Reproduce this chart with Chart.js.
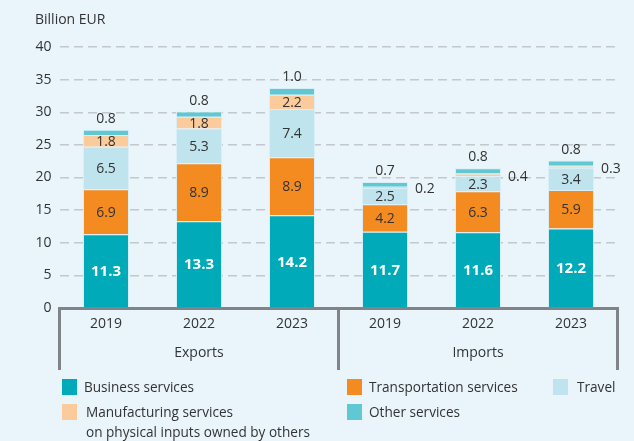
<!DOCTYPE html>
<html>
<head>
  <title>Services exports and imports</title>
  <script src="https://cdn.jsdelivr.net/npm/chart.js"></script>
  <style>
    body { margin: 0; background: #e9f5fb; font-family: "Open Sans", sans-serif; }
    #wrap { position: relative; width: 634px; height: 441px; }
    .legend-item {
      position: absolute;
      font-size: 13.6px;
      color: #333;
      line-height: 20px;
      white-space: pre-line;
    }
    .legend-item span.box {
      position: absolute;
      left: -22px;
      top: 2px;
      width: 15px;
      height: 16px;
    }
  </style>
</head>
<body>
<div id="wrap">
  <canvas id="chart" width="634" height="441"></canvas>
  <div id="legend"></div>
</div>

<script>
  const categories = ["2019", "2022", "2023", "2019", "2022", "2023"];
  const groups = ["Exports", "Imports"];
  const groupSizes = [3, 3];

  const business = [11.3, 13.3, 14.2, 11.7, 11.6, 12.2];
  const transport = [6.9, 8.9, 8.9, 4.2, 6.3, 5.9];
  const travel = [6.5, 5.3, 7.4, 2.5, 2.3, 3.4];
  const manufacturing = [1.8, 1.8, 2.2, 0.2, 0.4, 0.3];
  const other = [0.8, 0.8, 1.0, 0.7, 0.8, 0.8];

  const seriesNames = [
    "Business services",
    "Transportation services",
    "Travel",
    "Manufacturing services\non physical inputs owned by others",
    "Other services"
  ];
  const colors = ["#00aab8", "#f38b21", "#bfe4ed", "#fccb9b", "#5fc8d2"];

  const textColor = "#333333";
  const axisGray = "#808488";

  // value labels drawn from the bar elements
  const valueLabels = {
    id: "valueLabels",
    afterDatasetsDraw(chart) {
      const ctx = chart.ctx;
      ctx.save();
      chart.data.datasets.forEach((ds, di) => {
        const meta = chart.getDatasetMeta(di);
        meta.data.forEach((bar, i) => {
          const txt = ds.data[i].toFixed(1);
          const h = Math.abs(bar.base - bar.y);
          if (di === 0) {
            ctx.font = "bold 15px 'Open Sans'";
            ctx.fillStyle = "#ffffff";
            ctx.textAlign = "center";
            ctx.textBaseline = "middle";
            ctx.fillText(txt, bar.x, (bar.y + bar.base) / 2 + 1);
          } else if (di === 4) {
            ctx.font = "14px 'Open Sans'";
            ctx.fillStyle = textColor;
            ctx.textAlign = "center";
            ctx.textBaseline = "middle";
            ctx.fillText(txt, bar.x, bar.y - 11);
          } else if (h < 8) {
            ctx.font = "14px 'Open Sans'";
            ctx.fillStyle = textColor;
            ctx.textAlign = "left";
            ctx.textBaseline = "middle";
            ctx.fillText(txt, bar.x + bar.width / 2 + 7, (bar.y + bar.base) / 2 + 2);
          } else {
            ctx.font = "14px 'Open Sans'";
            ctx.fillStyle = textColor;
            ctx.textAlign = "center";
            ctx.textBaseline = "middle";
            ctx.fillText(txt, bar.x, (bar.y + bar.base) / 2 + 1);
          }
        });
      });
      ctx.restore();
    }
  };

  // group brackets under the x axis, plus the unit label
  const groupAxis = {
    id: "groupAxis",
    afterDraw(chart) {
      const ctx = chart.ctx;
      const x = chart.scales.x;
      const area = chart.chartArea;
      ctx.save();
      ctx.strokeStyle = axisGray;
      ctx.lineWidth = 3;
      let start = 0;
      const edges = [area.left];
      groups.forEach((g, gi) => {
        const end = start + groupSizes[gi] - 1;
        const right = end < categories.length - 1
          ? (x.getPixelForValue(end) + x.getPixelForValue(end + 1)) / 2
          : area.right;
        edges.push(right);
        ctx.font = "14px 'Open Sans'";
        ctx.fillStyle = textColor;
        ctx.textAlign = "center";
        ctx.textBaseline = "middle";
        ctx.fillText(g, (x.getPixelForValue(start) + x.getPixelForValue(end)) / 2, area.bottom + 45);
        start = end + 1;
      });
      edges.forEach(e => {
        ctx.beginPath();
        ctx.moveTo(e, area.bottom - 1);
        ctx.lineTo(e, area.bottom + 62);
        ctx.stroke();
      });
      ctx.font = "14px 'Open Sans'";
      ctx.fillStyle = textColor;
      ctx.textAlign = "left";
      ctx.textBaseline = "middle";
      ctx.fillText("Billion EUR", 35, 20);
      ctx.restore();
    }
  };

  const seriesData = [business, transport, travel, manufacturing, other];

  const chart = new Chart(document.getElementById("chart"), {
    type: "bar",
    data: {
      labels: categories,
      datasets: seriesData.map((d, i) => ({
        label: seriesNames[i],
        data: d,
        backgroundColor: colors[i],
        borderColor: "rgba(215,238,246,0.9)",
        borderWidth: 1,
        categoryPercentage: 1,
        barPercentage: 0.495
      }))
    },
    options: {
      responsive: false,
      animation: false,
      layout: { padding: { top: 47, right: 16.5, left: 0, bottom: 0 } },
      plugins: { legend: { display: false }, tooltip: { enabled: false } },
      scales: {
        x: {
          stacked: true,
          grid: { display: false, drawTicks: false },
          border: { display: true, color: axisGray, width: 3 },
          ticks: { color: textColor, font: { family: "Open Sans", size: 14 }, padding: 8 },
          afterFit(scale) { scale.height = 133; }
        },
        y: {
          stacked: true,
          min: 0,
          max: 40,
          ticks: { stepSize: 5, color: textColor, font: { family: "Open Sans", size: 14 }, padding: 8 },
          grid: { color: "#c3c8cc", lineWidth: 1.5, drawTicks: false },
          border: { display: false, dash: [9, 5] },
          afterFit(scale) { scale.width = 59.5; }
        }
      }
    },
    plugins: [valueLabels, groupAxis]
  });

  // html legend
  const legendPos = [
    { left: 84, top: 377 },
    { left: 369, top: 377 },
    { left: 577, top: 377 },
    { left: 86, top: 402 },
    { left: 369, top: 402 }
  ];
  const legend = document.getElementById("legend");
  chart.data.datasets.forEach((ds, i) => {
    const item = document.createElement("div");
    item.className = "legend-item";
    item.style.left = legendPos[i].left + "px";
    item.style.top = legendPos[i].top + "px";
    const box = document.createElement("span");
    box.className = "box";
    box.style.background = ds.backgroundColor;
    if (i === 3) box.style.left = "-24px";
    if (i === 2) box.style.left = "-24px";
    item.appendChild(box);
    item.appendChild(document.createTextNode(ds.label));
    legend.appendChild(item);
  });
</script>
</body>
</html>
